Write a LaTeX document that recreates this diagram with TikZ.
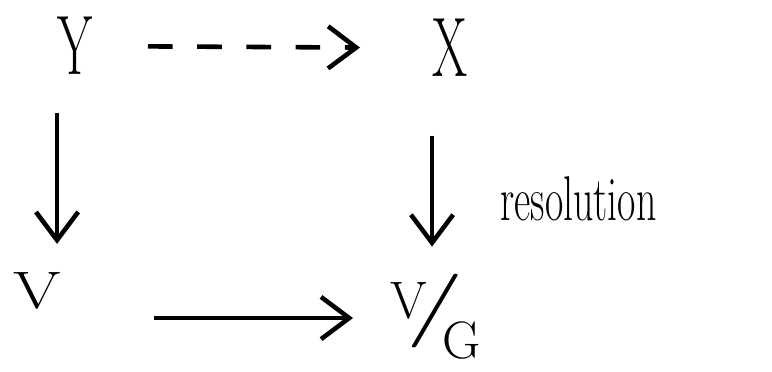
\documentclass[tikz,border=0pt]{standalone}
\usepackage{amsmath}
\usetikzlibrary{arrows.meta,positioning,calc}

\begin{document}
\begin{tikzpicture}[
      obj/.style={inner sep=0pt, font=\fontsize{24}{28}\selectfont, xscale=0.6, transform shape},
      sobj/.style={inner sep=0pt, font=\fontsize{15}{18}\selectfont},
      lab/.style={inner sep=0pt, font=\fontsize{18}{20}\selectfont, xscale=0.63, transform shape},
      arr/.style={-{Straight Barb[length=8pt,width=12pt]}, line width=1.3pt},
      darr/.style={arr, dash pattern=on 7pt off 7pt}
    ]
    \useasboundingbox (0,0) rectangle (7.72,-3.71);
    \node[obj] (y) at (0.75,-0.46) {Y};
    \node[obj] (x) at (4.50,-0.48) {X};
    \node[sobj, xscale=1.3, transform shape] (v) at (0.37,-2.91) {V};
    \node[sobj, anchor=base west] (vg) at (3.90,-3.18)
      {V\kern-6pt\raisebox{-3.3pt}{\fontsize{21}{24}\selectfont\scalebox{1.7}[1]{/}}\kern-6pt\raisebox{-11.4pt}{G}};
    \node[lab, anchor=base west] (res) at (5.0,-2.2) {resolution};
    \draw[darr, shorten <=0.73cm, shorten >=0.9cm] (y.center) -- (x.center);
    \draw[arr, shorten <=0.37cm, shorten >=0.28cm] (y.south west) -- (y.south west |- v.north);
    \draw[arr, shorten <=0.58cm, shorten >=0.27cm] (x.south west) -- (x.south west |- vg.north);
    \draw[arr, shorten <=0.92cm, shorten >=0.37cm] (vg.base west -| v.east) -- (vg.base west);
  \end{tikzpicture}
\end{document}
